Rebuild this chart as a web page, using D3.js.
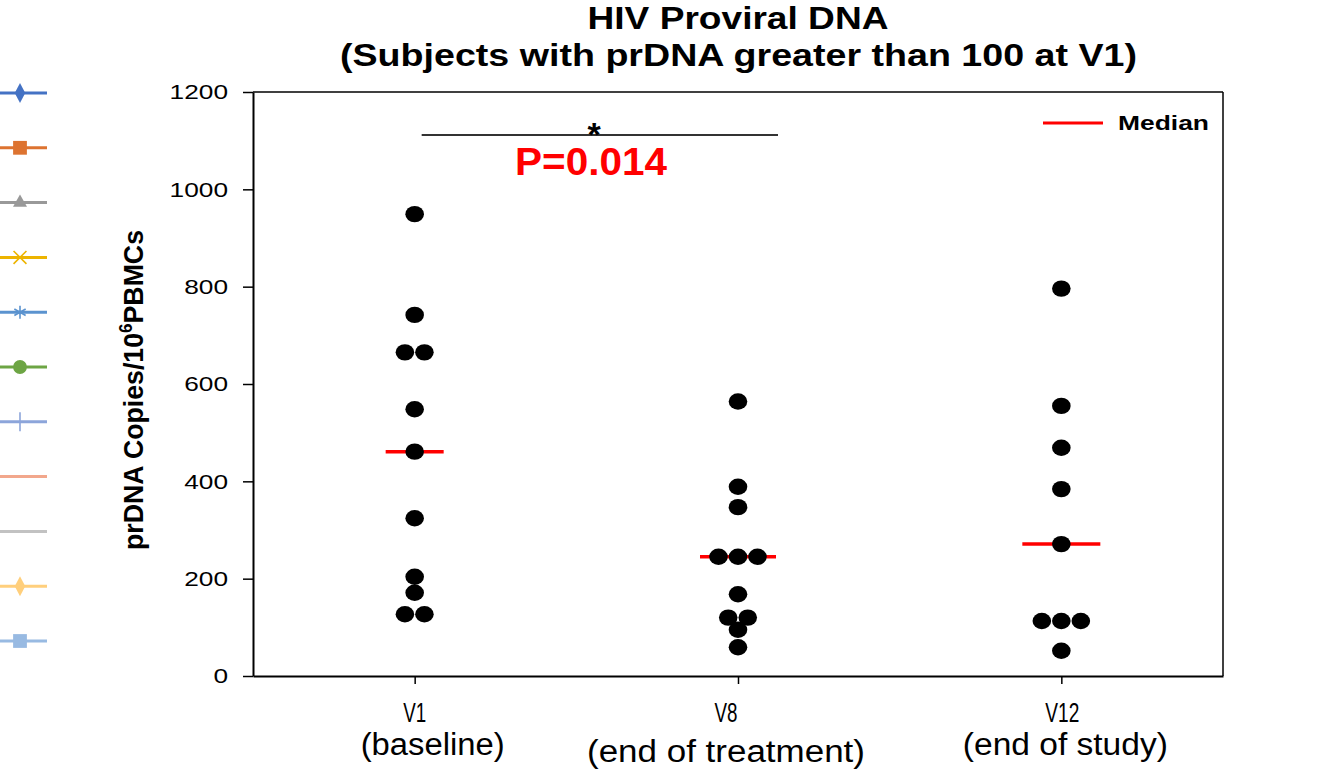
<!DOCTYPE html>
<html>
<head>
<meta charset="utf-8">
<script src="https://cdn.jsdelivr.net/npm/d3@7"></script>
<style>
  html, body { margin: 0; padding: 0; background: #fff; }
  svg { display: block; }
</style>
</head>
<body>
<svg id="chart" width="1319" height="777"></svg>
<script>
// ---------------- data ----------------
const categories = ["V1", "V8", "V12"];
const categorySubLabels = ["(baseline)", "(end of treatment)", "(end of study)"];
const v1Values = [949, 742, 665, 665, 548, 461, 324, 204, 171, 127, 127];
const v8Values = [564, 389, 347, 245, 245, 245, 168, 120, 120, 95, 59];
const v12Values = [796, 555, 469, 384, 271, 113, 113, 113, 52];
const yTicks = [0, 200, 400, 600, 800, 1000, 1200];
const legendSeries = ["Subject 1", "Subject 2", "Subject 3", "Subject 4", "Subject 5", "Subject 6",
                      "Subject 7", "Subject 8", "Subject 9", "Subject 10", "Subject 11"];
const titleLines = ["HIV Proviral DNA", "(Subjects with prDNA greater than 100 at V1)"];
const comparison = ["V1", "V8"];
const pValueLabel = "P=0.014";
const medianLabel = "Median";

const seriesValues = [v1Values, v8Values, v12Values];

// ---------------- styles ----------------
const legendColors = ["#4472C4", "#DD7330", "#999999", "#EDB400", "#5B93CF", "#6DA544",
                      "#8CA5DA", "#F2A78C", "#C2C2C2", "#FFCF7C", "#98BAE2"];
const legendShapes = ["diamond", "square", "triangle", "times", "asterisk", "circle",
                      "plus", "none", "none", "diamond", "square"];

const svg = d3.select("#chart");
svg.append("rect").attr("width", 1319).attr("height", 777).attr("fill", "#fff");

const plot = { left: 253, right: 1223, top: 92, bottom: 676 };

const x = d3.scalePoint().domain(categories).range([plot.left, plot.right]).padding(0.5);
const y = d3.scaleLinear().domain([0, 1200]).range([plot.bottom, plot.top]);

function fitWidth(sel, w) {
  sel.attr("textLength", w).attr("lengthAdjust", "spacingAndGlyphs");
}
function stretch(sel, k) {
  sel.each(function () {
    const w = this.getComputedTextLength();
    this.setAttribute("textLength", w * k);
    this.setAttribute("lengthAdjust", "spacingAndGlyphs");
  });
}

// ---------------- title ----------------
const titleFont = "'Liberation Sans', Arial, sans-serif";
svg.append("text").attr("x", 738).attr("y", 29).attr("text-anchor", "middle")
  .attr("font-family", titleFont).attr("font-weight", "bold").attr("font-size", 31)
  .text(titleLines[0]).call(fitWidth, 301);
svg.append("text").attr("x", 738.5).attr("y", 66).attr("text-anchor", "middle")
  .attr("font-family", titleFont).attr("font-weight", "bold").attr("font-size", 31)
  .text(titleLines[1]).call(fitWidth, 797);

// ---------------- axes ----------------
const yAxis = svg.append("g").attr("transform", `translate(${plot.left},0)`)
  .call(d3.axisLeft(y).tickValues(yTicks).tickFormat(d3.format("d"))
    .tickSize(10).tickSizeOuter(0).tickPadding(15));
yAxis.select(".domain").attr("stroke", "#000").attr("stroke-width", 2);
yAxis.selectAll(".tick line").attr("stroke", "#000").attr("stroke-width", 1.5);
yAxis.selectAll(".tick text")
  .attr("font-family", "'Liberation Sans', Arial, sans-serif")
  .attr("font-size", 21).attr("fill", "#000")
  .call(stretch, 1.25);

const xAxis = svg.append("g").attr("transform", `translate(0,${plot.bottom})`)
  .call(d3.axisBottom(x).tickSize(8).tickSizeOuter(0).tickFormat(""));
xAxis.select(".domain").attr("stroke", "#000").attr("stroke-width", 2);
xAxis.selectAll(".tick line").attr("stroke", "#000").attr("stroke-width", 1.5);

// top & right frame
svg.append("line").attr("x1", plot.left).attr("x2", plot.right).attr("y1", plot.top).attr("y2", plot.top)
  .attr("stroke", "#000").attr("stroke-width", 1.5);
svg.append("line").attr("x1", plot.right).attr("x2", plot.right).attr("y1", plot.top).attr("y2", plot.bottom)
  .attr("stroke", "#000").attr("stroke-width", 1.5);

// x category labels (text boxes, slightly offset like the original)
const xLabelFont = "'Liberation Sans Narrow', 'Arial Narrow', 'Liberation Sans', sans-serif";
const labelShift = [0, -12, 1];
const subShift = [18, -12, 4];
const mainWidths = [23, 23, 34];
const subWidths = [144, 278, 205];
const subBaselines = [755, 762, 755];
categories.forEach((c, i) => {
  svg.append("text").attr("x", x(c) + labelShift[i]).attr("y", 722).attr("text-anchor", "middle")
    .attr("font-family", xLabelFont).attr("font-size", 27).attr("fill", "#000")
    .text(c).call(fitWidth, mainWidths[i]);
  svg.append("text").attr("x", x(c) + subShift[i]).attr("y", subBaselines[i]).attr("text-anchor", "middle")
    .attr("font-family", xLabelFont).attr("font-size", 31).attr("fill", "#000")
    .text(categorySubLabels[i]).call(fitWidth, subWidths[i]);
});

// y-axis title
const yTitle = svg.append("text")
  .attr("transform", "translate(143,390) rotate(-90)")
  .attr("text-anchor", "middle")
  .attr("font-family", "'Liberation Sans', Arial, sans-serif")
  .attr("font-weight", "bold").attr("font-size", 28).attr("fill", "#000");
yTitle.append("tspan").text("prDNA Copies/10");
yTitle.append("tspan").attr("font-size", 18).attr("dy", -11).text("6");
yTitle.append("tspan").attr("dy", 11).text("PBMCs");
yTitle.call(fitWidth, 320);

// ---------------- medians ----------------
const medianHalf = [29, 38, 39];
categories.forEach((c, i) => {
  const m = d3.median(seriesValues[i]);
  svg.append("line")
    .attr("x1", x(c) - medianHalf[i]).attr("x2", x(c) + medianHalf[i])
    .attr("y1", y(m)).attr("y2", y(m))
    .attr("stroke", "#FF0000").attr("stroke-width", 3.5);
});

// ---------------- dots ----------------
const dotStep = 19.5;
const points = [];
categories.forEach((c, i) => {
  const groups = d3.group(seriesValues[i], v => v);
  groups.forEach((arr) => {
    arr.forEach((val, j) => {
      points.push({ cat: c, value: val, offset: (j - (arr.length - 1) / 2) * dotStep });
    });
  });
});
svg.append("g").selectAll("ellipse").data(points).join("ellipse")
  .attr("cx", d => x(d.cat) + d.offset)
  .attr("cy", d => y(d.value))
  .attr("rx", 9.3).attr("ry", 8.2)
  .attr("fill", "#000");

// ---------------- significance ----------------
const sigY = 135;
svg.append("line")
  .attr("x1", x(comparison[0]) + 7).attr("x2", x(comparison[1]) + 40)
  .attr("y1", sigY).attr("y2", sigY)
  .attr("stroke", "#333").attr("stroke-width", 1.8);
svg.append("text").attr("x", 594).attr("y", 146).attr("text-anchor", "middle")
  .attr("font-family", "'Liberation Sans', Arial, sans-serif").attr("font-weight", "bold")
  .attr("font-size", 34).attr("fill", "#000").text("*");
svg.append("text").attr("x", 591).attr("y", 175).attr("text-anchor", "middle")
  .attr("font-family", "'Liberation Sans', Arial, sans-serif").attr("font-weight", "bold")
  .attr("font-size", 39).attr("fill", "#FF0000").text(pValueLabel).call(fitWidth, 152);

// ---------------- median legend ----------------
svg.append("line").attr("x1", 1043).attr("x2", 1103).attr("y1", 123).attr("y2", 123)
  .attr("stroke", "#FF0000").attr("stroke-width", 3);
svg.append("text").attr("x", 1118).attr("y", 130)
  .attr("font-family", "'Liberation Sans', Arial, sans-serif").attr("font-weight", "bold")
  .attr("font-size", 20).attr("fill", "#000").text(medianLabel).call(fitWidth, 91);

// ---------------- left series legend (labels cropped) ----------------
const legY = d3.scalePoint().domain(legendSeries).range([93, 641]);
const symbolType = {
  diamond: d3.symbolDiamond, square: d3.symbolSquare, triangle: d3.symbolTriangle,
  times: d3.symbolTimes, asterisk: d3.symbolAsterisk, circle: d3.symbolCircle, plus: d3.symbolPlus
};
const symbolSize = { diamond: 95, square: 190, triangle: 85, times: 110, asterisk: 120, circle: 150, plus: 120 };
const strokeSymbols = new Set(["times", "asterisk", "plus"]);
legendSeries.forEach((s, i) => {
  const g = svg.append("g").attr("transform", `translate(0,${legY(s)})`);
  g.append("line").attr("x1", 0).attr("x2", 47).attr("y1", 0).attr("y2", 0)
    .attr("stroke", legendColors[i]).attr("stroke-width", 3);
  const shape = legendShapes[i];
  if (shape !== "none") {
    const p = g.append("path").attr("transform", "translate(20,0)" + (shape === "diamond" ? " scale(1,1.1)" : ""))
      .attr("d", d3.symbol(symbolType[shape], symbolSize[shape])());
    if (strokeSymbols.has(shape)) {
      p.attr("fill", "none").attr("stroke", legendColors[i]).attr("stroke-width", 1.6);
    } else {
      p.attr("fill", legendColors[i]);
    }
  }
});
</script>
</body>
</html>
